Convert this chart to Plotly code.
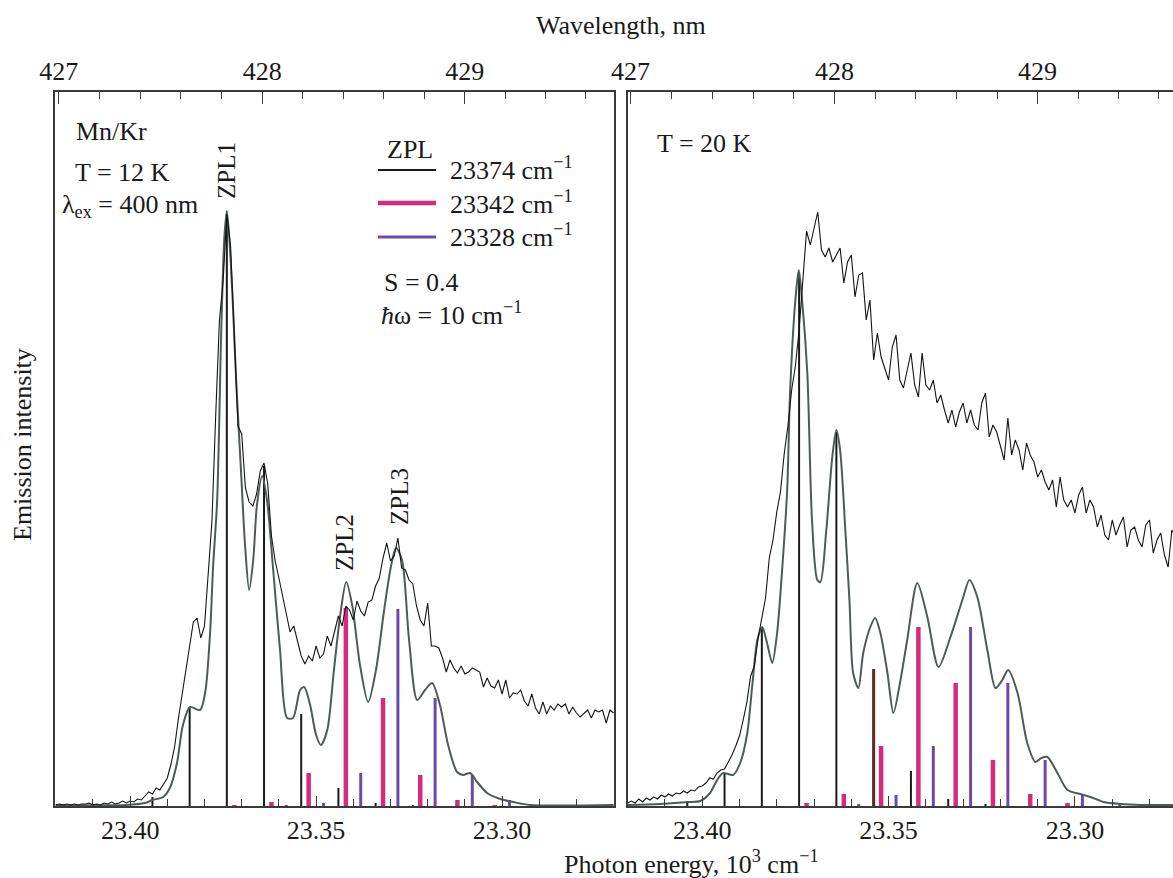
import plotly.graph_objects as go

# ------------------------------------------------------------------
# DATA  (energies in cm^-1, intensities in arbitrary units)
# ------------------------------------------------------------------
# Experimental spectra, recorded on a 1 cm^-1 grid
exp12_energy = list(range(23420, 23269, -1))          # 23420 ... 23270
exp12_intensity = [
    1, 2, 1, 2, 1, 2, 1, 2, 2, 3, 1, 2, 1, 3, 2, 4, 2, 3, 5, 3,
    5, 4, 7, 6, 10, 14, 12, 18, 16, 22, 28, 42, 60, 88, 112, 135, 160, 184, 188, 168,
    180, 228, 285, 390, 485, 525, 592, 560, 465, 380, 372, 318, 304, 300, 312, 335, 343, 322, 270, 245,
    228, 210, 195, 174, 180, 166, 150, 142, 150, 145, 160, 148, 152, 170, 160, 175, 190, 180, 200, 196,
    186, 205, 195, 190, 204, 206, 220, 228, 248, 263, 245, 250, 268, 238, 236, 226, 222, 200, 186, 180,
    203, 160, 160, 158, 148, 134, 146, 138, 133, 140, 132, 134, 138, 136, 134, 119, 128, 120, 118, 126,
    112, 126, 108, 113, 112, 116, 105, 100, 112, 98, 92, 104, 92, 100, 96, 102, 99, 102, 92, 99,
    93, 89, 93, 96, 88, 96, 94, 96, 83, 96, 93,
]

exp20_energy = list(range(23420, 23272, -1))          # 23420 ... 23273
exp20_intensity = [
    3, 5, 3, 7, 4, 8, 6, 9, 7, 11, 9, 12, 10, 13, 12, 15, 13, 16, 15, 19,
    20, 23, 28, 27, 33, 36, 37, 44, 51, 60, 70, 86, 104, 130, 140, 168, 188, 208, 248, 266,
    294, 314, 352, 380, 416, 440, 476, 530, 575, 561, 578, 594, 556, 549, 558, 544, 551, 558, 523, 544,
    551, 509, 531, 533, 486, 506, 446, 473, 449, 438, 426, 459, 471, 426, 418, 436, 453, 421, 409, 453,
    421, 416, 426, 403, 411, 396, 383, 396, 379, 394, 403, 383, 396, 381, 376, 403, 413, 369, 381, 374,
    361, 346, 388, 351, 366, 356, 336, 363, 351, 344, 329, 336, 324, 316, 326, 299, 329, 306, 299, 306,
    293, 311, 319, 293, 306, 299, 279, 291, 271, 266, 286, 271, 281, 289, 259, 276, 279, 266, 259, 281,
    286, 253, 266, 273, 251, 239, 276, 269,
]

# Calculated (convolved) spectra
calc12_energy = [23420, 23401.3, 23396.0, 23394.1, 23391.1, 23389.2, 23387.4, 23385.8, 23383.9, 23381.2,
                 23379.8, 23378.5, 23377.7, 23376.6, 23375.5, 23374.7, 23374.0, 23373.3, 23372.3, 23371.5,
                 23370.2, 23369.1, 23368.0, 23366.9, 23365.9, 23364.5, 23363.2, 23361.6, 23359.7, 23357.8,
                 23356.2, 23354.3, 23353.2, 23351.6, 23350.0, 23348.7, 23347.0, 23345.2, 23343.5, 23341.9,
                 23340.3, 23338.2, 23336.0, 23333.9, 23331.7, 23329.8, 23328.5, 23326.9, 23325.0, 23322.8,
                 23320.7, 23318.8, 23316.7, 23314.5, 23312.1, 23310.5, 23308.6, 23306.7, 23304.0, 23300.5,
                 23297.0, 23292.5, 23270]
calc12_intensity = [1, 1, 3, 6, 9, 19, 43, 81, 99, 96,
                    114, 173, 239, 306, 476, 566, 595, 566, 496, 426,
                    336, 261, 216, 246, 301, 330, 306, 239, 156, 88,
                    88, 116, 119, 101, 71, 61, 76, 136, 191, 224,
                    201, 141, 104, 136, 196, 241, 258, 246, 166, 106,
                    116, 123, 101, 61, 34, 31, 33, 24, 13, 7,
                    4, 1, 1]

calc20_energy = [23419.9, 23411.3, 23404.0, 23400.5, 23397.9, 23396.0, 23394.4, 23391.7, 23389.8, 23387.9,
                 23386.6, 23385.2, 23383.9, 23382.6, 23381.2, 23379.9, 23378.5, 23377.2, 23376.4, 23375.0,
                 23374.1, 23373.2, 23371.8, 23370.5, 23369.1, 23368.3, 23366.7, 23365.1, 23364.0, 23363.0,
                 23361.6, 23360.5, 23359.5, 23358.1, 23356.8, 23354.9, 23353.6, 23352.2, 23350.3, 23348.7,
                 23346.8, 23345.0, 23342.3, 23339.6, 23336.6, 23333.4, 23330.2, 23328.3, 23326.2, 23323.5,
                 23321.3, 23319.5, 23317.9, 23315.4, 23312.8, 23310.6, 23309.0, 23307.4, 23304.7, 23302.0,
                 23298.5, 23295.8, 23292.3, 23287.8, 23282.4, 23273]
calc20_intensity = [1, 2, 4, 5, 13, 26, 33, 31, 43, 73,
                    119, 166, 179, 163, 143, 173, 239, 316, 416, 506,
                    536, 506, 433, 283, 226, 224, 276, 349, 376, 356,
                    276, 206, 133, 118, 153, 179, 188, 173, 133, 93,
                    126, 166, 223, 189, 139, 169, 206, 226, 209, 156,
                    118, 126, 136, 113, 63, 44, 48, 49, 33, 16,
                    12, 9, 4, 2, 1, 1]

# Stick spectra (Poisson progressions, S = 0.4, hw = 10 cm^-1)
sticks12_zpl1_energy = [23394, 23384, 23374, 23364, 23354, 23344, 23334, 23324]
sticks12_zpl1_height = [9, 98, 592, 340, 92, 18, 3, 1]
sticks12_zpl2_energy = [23372, 23362, 23352, 23342, 23332, 23322, 23312, 23302]
sticks12_zpl2_height = [1, 4, 33, 198, 108, 31, 6, 1]
sticks12_zpl3_energy = [23358, 23348, 23338, 23328, 23318, 23308, 23298, 23288]
sticks12_zpl3_height = [1, 3, 33, 197, 108, 31, 6, 1]

sticks20_zpl1_energy = [23404, 23394, 23384, 23374, 23364, 23354, 23344, 23334, 23324]
sticks20_zpl1_height = [3, 33, 178, 534, 374, 137, 35, 7, 2]
sticks20_zpl2_energy = [23372, 23362, 23352, 23342, 23332, 23322, 23312, 23302]
sticks20_zpl2_height = [3, 12, 60, 179, 123, 46, 12, 3]
sticks20_zpl3_energy = [23358, 23348, 23338, 23328, 23318, 23308, 23298, 23288]
sticks20_zpl3_height = [2, 11, 60, 179, 123, 46, 12, 2]

zpl_labels = ["23374 cm<sup>\u22121</sup>", "23342 cm<sup>\u22121</sup>", "23328 cm<sup>\u22121</sup>"]

# Axis ticks
energy_ticks = [23.40, 23.35, 23.30]                     # 10^3 cm^-1
wavelength_major = [427, 428, 429]                       # nm
wavelength_minor = [427.2, 427.4, 427.6, 427.8, 428.2, 428.4, 428.6, 428.8,
                    429.2, 429.4, 429.6, 429.8]

# ------------------------------------------------------------------
# STYLE / LAYOUT
# ------------------------------------------------------------------
W, H = 1173, 878
FONT = "Liberation Serif"
TXT = "#1a1a1a"
AX = "#3a3a3a"
BLACK = "#1a1a1a"
PINK = "#d62a7b"
PURPLE = "#6a4ca8"
MAROON = "#5e2a2a"
GRAY = "#4f5a5a"


def pxx(x):
    return x / W


def pxy(y):
    return 1 - y / H


def to_k(vals):
    return [v / 1000.0 for v in vals]


def stick_xy(energies, heights):
    xs, ys = [], []
    for e, h in zip(energies, heights):
        xs += [e / 1000.0, e / 1000.0, None]
        ys += [0, h, None]
    return xs, ys


fig = go.Figure()

panels = [
    dict(xa="x", ya="y", top="x3",
         exp=(exp12_energy, exp12_intensity), calc=(calc12_energy, calc12_intensity),
         sticks=[(sticks12_zpl1_energy, sticks12_zpl1_height, BLACK, 2),
                 (sticks12_zpl2_energy, sticks12_zpl2_height, PINK, 4.5),
                 (sticks12_zpl3_energy, sticks12_zpl3_height, PURPLE, 3)],
         highlight={}),
    dict(xa="x2", ya="y2", top="x4",
         exp=(exp20_energy, exp20_intensity), calc=(calc20_energy, calc20_intensity),
         sticks=[(sticks20_zpl1_energy, sticks20_zpl1_height, BLACK, 2),
                 (sticks20_zpl2_energy, sticks20_zpl2_height, PINK, 4.5),
                 (sticks20_zpl3_energy, sticks20_zpl3_height, PURPLE, 3)],
         highlight={23354: (MAROON, 3)}),
]

for p in panels:
    for en, hh, col, w in p["sticks"]:
        xs, ys = stick_xy(en, hh)
        fig.add_trace(go.Scatter(x=xs, y=ys, mode="lines", xaxis=p["xa"], yaxis=p["ya"],
                                 line=dict(color=col, width=w), hoverinfo="skip"))
    for en, hh, col, w in p["sticks"][:1]:
        for e, h in zip(en, hh):
            if e in p["highlight"]:
                c, ww = p["highlight"][e]
                xs, ys = stick_xy([e], [h])
                fig.add_trace(go.Scatter(x=xs, y=ys, mode="lines", xaxis=p["xa"], yaxis=p["ya"],
                                         line=dict(color=c, width=ww), hoverinfo="skip"))
    ce, ci = p["calc"]
    fig.add_trace(go.Scatter(x=to_k(ce), y=ci, mode="lines", xaxis=p["xa"], yaxis=p["ya"],
                             line=dict(color=GRAY, width=2, shape="spline", smoothing=0.8)))
    ee, ei = p["exp"]
    fig.add_trace(go.Scatter(x=to_k(ee), y=ei, mode="lines", xaxis=p["xa"], yaxis=p["ya"],
                             line=dict(color="#141414", width=1.1)))
    # invisible carrier trace so that the top (wavelength) axis is drawn
    fig.add_trace(go.Scatter(x=[1e4 / w for w in wavelength_major], y=[None] * len(wavelength_major),
                             mode="markers", xaxis=p["top"], yaxis=p["ya"],
                             marker=dict(opacity=0), hoverinfo="skip"))

tickfont = dict(family=FONT, size=26, color=TXT)

bottom_axis = dict(
    tickmode="array", tickvals=energy_ticks, ticktext=[f"{v:.2f}" for v in energy_ticks],
    ticks="inside", ticklen=10, tickwidth=1.2, tickcolor=AX,
    showline=True, linecolor=AX, linewidth=1.5, showgrid=False, zeroline=False,
    minor=dict(tick0=23.30, dtick=0.01, ticks="inside", ticklen=7, tickwidth=1.2,
               tickcolor=AX, showgrid=False),
    tickfont=tickfont, ticklabelstandoff=0, automargin=False,
)
top_axis = dict(
    tickmode="array", tickvals=[1e4 / w for w in wavelength_major],
    ticktext=[str(w) for w in wavelength_major],
    ticks="inside", ticklen=12, tickwidth=1.2, tickcolor=AX,
    showline=True, linecolor=AX, linewidth=1.5, showgrid=False, zeroline=False,
    minor=dict(tickmode="array", tickvals=[1e4 / w for w in wavelength_minor],
               ticks="inside", ticklen=7, tickwidth=1.2, tickcolor=AX, showgrid=False),
    tickfont=tickfont, ticklabelstandoff=0, automargin=False,
)

left_range = [23.4202, 23.2699]
right_range = [23.4199, 23.2737]
ydom = [(H - 806) / H, (H - 92) / H]

fig.update_layout(
    width=W, height=H, margin=dict(l=0, r=0, t=0, b=0, pad=0, autoexpand=False),
    paper_bgcolor="white", plot_bgcolor="white", showlegend=False,
    font=dict(family=FONT, size=26, color=TXT),
    xaxis=dict(domain=[55 / W, 614 / W], range=left_range, anchor="y", **bottom_axis),
    xaxis2=dict(domain=[628 / W, 1.0], range=right_range, anchor="y2", **bottom_axis),
    xaxis3=dict(overlaying="x", anchor="y", side="top", range=left_range, **top_axis),
    xaxis4=dict(overlaying="x2", anchor="y2", side="top", range=right_range, **top_axis),
    yaxis=dict(domain=ydom, range=[0, 714], anchor="x", showticklabels=False, ticks="",
               showline=True, mirror=True, linecolor=AX, linewidth=1.5,
               showgrid=False, zeroline=False, automargin=False),
    yaxis2=dict(domain=ydom, range=[0, 714], anchor="x2", showticklabels=False, ticks="",
                showline=True, mirror=False, linecolor=AX, linewidth=1.5,
                showgrid=False, zeroline=False, automargin=False),
)


def note(text, x, y, xanchor="left", angle=0, size=26):
    fig.add_annotation(text=text, x=pxx(x), y=pxy(y), xref="paper", yref="paper",
                       xanchor=xanchor, yanchor="middle", showarrow=False, textangle=angle,
                       font=dict(family=FONT, size=size, color=TXT))


# axis titles
note("Wavelength, nm", 621, 25, xanchor="center")
note("Photon energy, 10<sup>3</sup> cm<sup>\u22121</sup>", 691, 862, xanchor="center")
note("Emission intensity", 22, 445, xanchor="center", angle=-90)

# panel texts
note("Mn/Kr", 74, 131)
note("T = 12 K", 73, 172)
note("\u03bb<sub>ex</sub> = 400 nm", 60, 206)
note("ZPL1", 227, 171, xanchor="center", angle=-90, size=25)
note("ZPL2", 344, 543, xanchor="center", angle=-90, size=25)
note("ZPL3", 399, 497, xanchor="center", angle=-90, size=25)
note("T = 20 K", 655, 143)

# legend block
note("ZPL", 410, 150, xanchor="center")
legend_rows = [(170, BLACK, 2), (203, PINK, 4.5), (237, PURPLE, 3)]
for (yy, col, w), lab in zip(legend_rows, zpl_labels):
    fig.add_shape(type="line", xref="paper", yref="paper",
                  x0=pxx(378), x1=pxx(436), y0=pxy(yy), y1=pxy(yy),
                  line=dict(color=col, width=w))
    note(lab, 448, yy - 1)
note("S = 0.4", 382, 283)
note("<i>\u0127</i>\u03c9 = 10 cm<sup>\u22121</sup>", 379, 313)

fig.write_html("out.html", config={"displayModeBar": False},
               post_script="document.body.style.margin='0';document.body.style.overflow='hidden';")
